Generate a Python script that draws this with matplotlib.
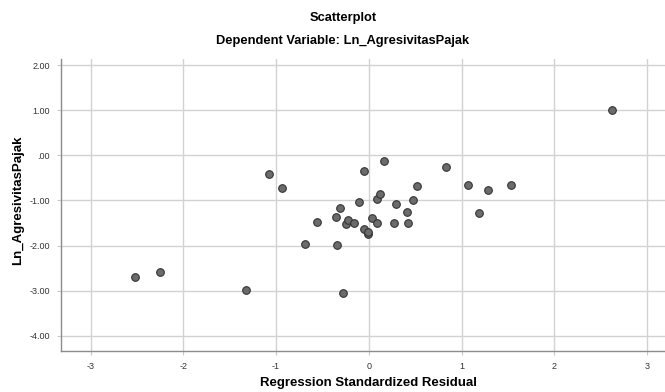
import matplotlib
matplotlib.use("Agg")
import matplotlib.pyplot as plt

residual = [-2.517, -2.247, -1.323, -1.078, -0.94, -0.69, -0.56, -0.358, -0.348, -0.315,
            -0.283, -0.247, -0.226, -0.164, -0.103, -0.056, -0.05, -0.013, -0.006, 0.033,
            0.087, 0.091, 0.12, 0.166, 0.274, 0.296, 0.411, 0.419, 0.473, 0.519,
            0.829, 1.073, 1.188, 1.282, 1.537, 2.624]
ln_agresivitas = [-2.698, -2.594, -2.98, -0.415, -0.718, -1.967, -1.479, -1.375, -1.98, -1.175,
                  -3.053, -1.517, -1.428, -1.508, -1.042, -1.641, -0.355, -1.752, -1.694, -1.39,
                  -0.962, -1.501, -0.866, -0.133, -1.501, -1.087, -1.25, -1.494, -0.991, -0.687,
                  -0.259, -0.666, -1.286, -0.77, -0.666, 1.004]

x_ticks = [-3, -2, -1, 0, 1, 2, 3]
y_ticks = [2, 1, 0, -1, -2, -3, -4]
y_tick_labels = ["2.00", "1.00", ".00", "-1.00", "-2.00", "-3.00", "-4.00"]

plt.rcParams['font.family'] = ['Liberation Sans', 'DejaVu Sans']

fig = plt.figure(figsize=(6.65, 3.92), dpi=100)
ax = fig.add_axes([61/665, (392-350.7)/392, 1 - 61/665, (350.7-59)/392])

ax.set_xlim(-3.32, 3.195)
ax.set_ylim(-4.33, 2.135)
ax.set_xticks(x_ticks)
ax.set_xticklabels([str(t) for t in x_ticks])
ax.set_yticks(y_ticks)
ax.set_yticklabels(y_tick_labels)
ax.grid(True, color='#d2d2d2', linewidth=1.0)
ax.set_axisbelow(True)

ax.scatter(residual, ln_agresivitas, s=30, facecolor='#6b6b6b', edgecolor='#333333',
           linewidth=0.8, zorder=3)

for s in ['top', 'right']:
    ax.spines[s].set_visible(False)
for s in ['left', 'bottom']:
    ax.spines[s].set_color('#8c8c8c')
    ax.spines[s].set_linewidth(1.0)

ax.tick_params(axis='both', labelsize=6.5, colors='#c8c8c8', labelcolor='#333333', length=3, width=0.8)
ax.tick_params(axis='x', pad=5)
ax.tick_params(axis='y', pad=5)

fig.text(368/665, 1 - 383/392, "Regression Standardized Residual", ha='center', va='center',
         fontsize=9.5, fontweight='bold')
fig.text(18/665, 1 - 200/392, "Ln_AgresivitasPajak", ha='center', va='center', rotation=90,
         fontsize=9.5, fontweight='bold')

fig.text(343/665, 1 - 18/392, "Scatterplot", ha='center', va='center', fontsize=9.3, fontweight='bold')
fig.text(343/665, 1 - 41/392, "Dependent Variable: Ln_AgresivitasPajak", ha='center', va='center',
         fontsize=9.3, fontweight='bold')

fig.savefig("out.png", dpi=100)
